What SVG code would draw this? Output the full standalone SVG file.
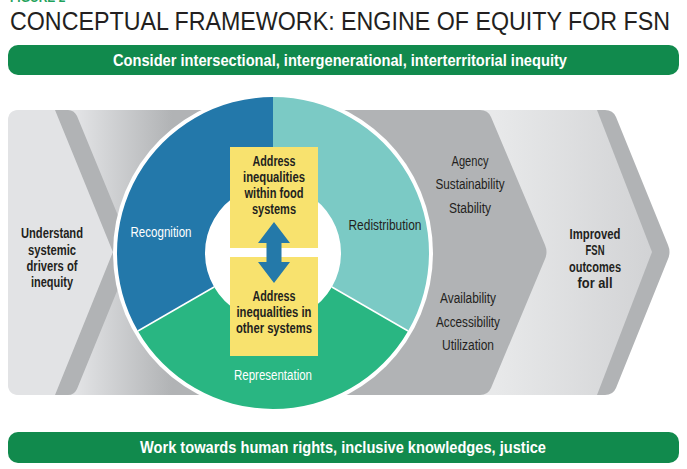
<svg xmlns="http://www.w3.org/2000/svg" width="687" height="469" viewBox="0 0 687 469">
<defs>
<style>
text{font-family:"Liberation Sans","DejaVu Sans",sans-serif;text-anchor:middle}
.b{font-weight:bold}
.dk{fill:#231f20}
.wt{fill:#ffffff}
.bar{fill:#118a4d}
.gray{fill:#b1b3b5}
.lbl{font-size:14px}
.box{fill:#f8e26e}
.div{stroke:#ffffff;stroke-width:1.5}
</style>
<linearGradient id="gL" gradientUnits="userSpaceOnUse" x1="75" y1="0" x2="172" y2="0">
<stop offset="0" stop-color="#e3e4e6"/>
<stop offset="1" stop-color="#b1b3b5"/>
</linearGradient>
<linearGradient id="gR" gradientUnits="userSpaceOnUse" x1="495" y1="0" x2="650" y2="0">
<stop offset="0" stop-color="#e8e9ea"/>
<stop offset="1" stop-color="#d2d3d5"/>
</linearGradient>
</defs>

<text x="10" y="2" style="font-size:12px;text-anchor:start;fill:#1fa25c" class="b">FIGURE 2</text>
<text x="10" y="30" class="dk" style="font-size:25px;text-anchor:start" textLength="660" lengthAdjust="spacingAndGlyphs">CONCEPTUAL FRAMEWORK: ENGINE OF EQUITY FOR FSN</text>

<g id="top-bar">
<rect class="bar" x="8" y="45" width="671" height="30" rx="10"/>
<text x="340" y="66" class="b wt" style="font-size:16px" textLength="454" lengthAdjust="spacingAndGlyphs">Consider intersectional, intergenerational, interterritorial inequity</text>
</g>

<g id="band">
<path class="gray" d="M480 110 L605 110 Q613 110 616 117 L668 245 Q671 252 668 259 L616 388 Q613 395 605 395 L480 395 Z"/>
<path fill="url(#gR)" d="M480 110 L597 110 L652 252 L597 395 L480 395 Z"/>
<path class="gray" d="M150 110 L480 110 Q488 110 491 117 L545 245 Q548 252 545 259 L491 388 Q488 395 480 395 L150 395 Z"/>
<rect x="8" y="110" width="170" height="285" rx="11" fill="url(#gL)"/>
<path fill="#e2e3e5" d="M19 110 L55 110 L113 252 L55 395 L19 395 Q8 395 8 384 L8 121 Q8 110 19 110 Z"/>
<path class="gray" d="M55 110 L68 110 Q74 110 77 116 L133 252 L77 389 Q74 395 68 395 L55 395 L113 252 Z"/>
</g>

<g id="left-node">
<text class="b dk lbl" x="52" y="238" textLength="62" lengthAdjust="spacingAndGlyphs">Understand</text>
<text class="b dk lbl" x="52" y="255" textLength="48" lengthAdjust="spacingAndGlyphs">systemic</text>
<text class="b dk lbl" x="52" y="271" textLength="51" lengthAdjust="spacingAndGlyphs">drivers of</text>
<text class="b dk lbl" x="52" y="287" textLength="42" lengthAdjust="spacingAndGlyphs">inequity</text>
</g>

<g id="wheel">
<circle cx="273" cy="253" r="160" fill="#ffffff"/>
<g id="recognition">
<path fill="#2378aa" d="M137.9 331 A156 156 0 0 1 273 97 L273 185 A68 68 0 0 0 214.1 287 Z"/>
<text class="wt lbl" x="161" y="237" textLength="61" lengthAdjust="spacingAndGlyphs">Recognition</text>
</g>
<g id="redistribution">
<path fill="#7bcac5" d="M273 97 A156 156 0 0 1 408.1 331 L331.9 287 A68 68 0 0 0 273 185 Z"/>
<text class="dk lbl" x="385" y="230" textLength="73" lengthAdjust="spacingAndGlyphs">Redistribution</text>
</g>
<g id="representation">
<path fill="#29b682" d="M408.1 331 A156 156 0 0 1 137.9 331 L214.1 287 A68 68 0 0 0 331.9 287 Z"/>
<text class="wt lbl" x="273" y="380" textLength="78" lengthAdjust="spacingAndGlyphs">Representation</text>
</g>
<line class="div" x1="214.1" y1="287" x2="137.9" y2="331"/>
<line class="div" x1="331.9" y1="287" x2="408.1" y2="331"/>
</g>

<g id="box-food">
<rect class="box" x="230" y="147" width="88" height="101"/>
<text class="b dk lbl" x="274" y="166" textLength="43" lengthAdjust="spacingAndGlyphs">Address</text>
<text class="b dk lbl" x="274" y="182" textLength="62" lengthAdjust="spacingAndGlyphs">inequalities</text>
<text class="b dk lbl" x="274" y="198" textLength="59" lengthAdjust="spacingAndGlyphs">within food</text>
<text class="b dk lbl" x="274" y="214" textLength="44" lengthAdjust="spacingAndGlyphs">systems</text>
</g>

<g id="box-other">
<rect class="box" x="230" y="257" width="88" height="99"/>
<text class="b dk lbl" x="274" y="301" textLength="43" lengthAdjust="spacingAndGlyphs">Address</text>
<text class="b dk lbl" x="274" y="317" textLength="75" lengthAdjust="spacingAndGlyphs">inequalities in</text>
<text class="b dk lbl" x="274" y="333" textLength="76" lengthAdjust="spacingAndGlyphs">other systems</text>
</g>

<g id="connectors">
<polygon fill="#2479a9" points="274,222 290,243 281.5,243 281.5,262 290,262 274,283 258,262 266.5,262 266.5,243 258,243"/>
</g>

<g id="dimensions">
<text class="dk lbl" x="470" y="166" textLength="37" lengthAdjust="spacingAndGlyphs">Agency</text>
<text class="dk lbl" x="470" y="189" textLength="69" lengthAdjust="spacingAndGlyphs">Sustainability</text>
<text class="dk lbl" x="470" y="213" textLength="42" lengthAdjust="spacingAndGlyphs">Stability</text>
<text class="dk lbl" x="468" y="303" textLength="56" lengthAdjust="spacingAndGlyphs">Availability</text>
<text class="dk lbl" x="468" y="327" textLength="64" lengthAdjust="spacingAndGlyphs">Accessibility</text>
<text class="dk lbl" x="468" y="350" textLength="52" lengthAdjust="spacingAndGlyphs">Utilization</text>
</g>

<g id="right-node">
<text class="b dk lbl" x="595" y="239" textLength="51" lengthAdjust="spacingAndGlyphs">Improved</text>
<text class="b dk lbl" x="595" y="255" textLength="19" lengthAdjust="spacingAndGlyphs">FSN</text>
<text class="b dk lbl" x="595" y="272" textLength="52" lengthAdjust="spacingAndGlyphs">outcomes</text>
<text class="b dk lbl" x="595" y="288" textLength="35" lengthAdjust="spacingAndGlyphs">for all</text>
</g>

<g id="bottom-bar">
<rect class="bar" x="8" y="432" width="671" height="31" rx="10"/>
<text x="343" y="453" class="b wt" style="font-size:16px" textLength="406" lengthAdjust="spacingAndGlyphs">Work towards human rights, inclusive knowledges, justice</text>
</g>
</svg>
